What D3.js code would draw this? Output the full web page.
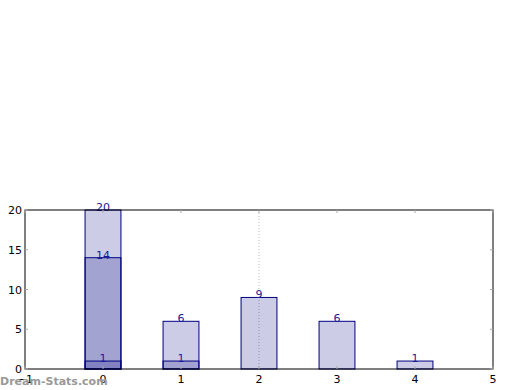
<!DOCTYPE html>
<html>
<head>
<meta charset="utf-8">
<script src="https://cdn.jsdelivr.net/npm/d3@7"></script>
<style>
  body { margin: 0; background: #fff; }
  svg { display: block; font-family: "DejaVu Sans", sans-serif; }
</style>
</head>
<body>
<svg id="chart" width="520" height="390"></svg>
<script>
// data
var xTicks = [-1, 0, 1, 2, 3, 4, 5];
var yTicks = [0, 5, 10, 15, 20];
var totals = [20, 6, 9, 6, 1];
var middle = [14, 1];
var inner = [1];
var positions = [0, 1, 2, 3, 4];

var svg = d3.select("#chart");
var padL = 25, padR = 493, padT = 210, padB = 369;

var x = d3.scaleLinear().domain([-1, 5]).range([padL, padR]);
var y = d3.scaleLinear().domain([0, 20]).range([padB, padT]);
var barW = x(0.46) - x(0);

// dotted guide at x=2
svg.append("line")
    .attr("x1", x(2)).attr("x2", x(2))
    .attr("y1", padT).attr("y2", padB)
    .attr("stroke", "#bbb").attr("stroke-dasharray", "1,2");

function drawBars(vals) {
    svg.append("g").selectAll("rect")
        .data(vals)
        .enter().append("rect")
            .attr("x", function(d, i) { return x(positions[i]) - barW / 2; })
            .attr("y", function(d) { return y(d); })
            .attr("width", barW)
            .attr("height", function(d) { return y(0) - y(d); })
            .attr("fill", "navy")
            .attr("fill-opacity", 0.2)
            .attr("stroke", "navy")
            .attr("stroke-width", 1);
}
drawBars(totals);
drawBars(middle);
drawBars(inner);

function drawLabels(vals) {
    svg.append("g").selectAll("text")
        .data(vals)
        .enter().append("text")
            .text(function(d) { return d; })
            .attr("x", function(d, i) { return x(positions[i]); })
            .attr("y", function(d) { return y(d) + 1; })
            .attr("text-anchor", "middle")
            .attr("font-size", 11)
            .attr("fill", "#1a1a99");
}
drawLabels(totals);
drawLabels(middle);
drawLabels(inner);

// frame
svg.append("rect")
    .attr("x", padL).attr("y", padT)
    .attr("width", padR - padL).attr("height", padB - padT)
    .attr("fill", "none").attr("stroke", "#000");

// ticks
var tickG = svg.append("g").attr("stroke", "#aaa");
xTicks.forEach(function(t) {
    tickG.append("line").attr("x1", x(t)).attr("x2", x(t)).attr("y1", padB).attr("y2", padB - 3);
    tickG.append("line").attr("x1", x(t)).attr("x2", x(t)).attr("y1", padT).attr("y2", padT + 3);
});
yTicks.forEach(function(t) {
    tickG.append("line").attr("x1", padL).attr("x2", padL + 3).attr("y1", y(t)).attr("y2", y(t));
    tickG.append("line").attr("x1", padR).attr("x2", padR - 3).attr("y1", y(t)).attr("y2", y(t));
});

svg.append("g").selectAll("text")
    .data(xTicks)
    .enter().append("text")
        .text(function(d) { return d < 0 ? "\u2212" + (-d) : d; })
        .attr("x", function(d) { return x(d); })
        .attr("y", padB + 14)
        .attr("text-anchor", "middle")
        .attr("font-size", 11);

svg.append("g").selectAll("text")
    .data(yTicks)
    .enter().append("text")
        .text(function(d) { return d; })
        .attr("x", padL - 3)
        .attr("y", function(d) { return y(d) + 4; })
        .attr("text-anchor", "end")
        .attr("font-size", 11);

// watermark
svg.append("text")
    .text("Dream-Stats.com")
    .attr("x", 0).attr("y", 385)
    .attr("font-size", 11)
    .attr("font-weight", "bold")
    .attr("fill", "#999");
</script>
</body>
</html>
